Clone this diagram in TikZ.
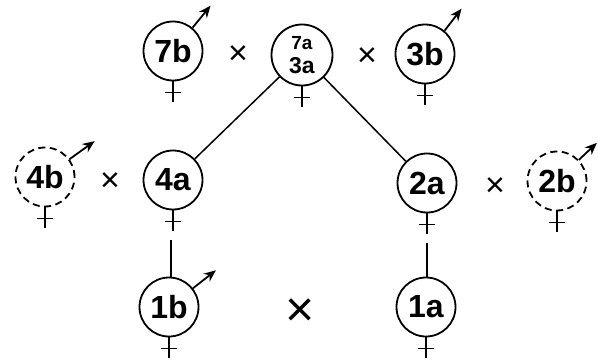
\documentclass[tikz,border=0pt]{standalone}
\usepackage{fontspec}
\setmainfont{Liberation Sans}
\usetikzlibrary{arrows.meta}
\tikzset{
  x=1pt, y=1pt,
  every path/.style={line width=1.7pt},
  sex/.style={circle, draw, line width=1.8pt, minimum size=59pt, inner sep=0pt,
    font=\fontsize{32}{34}\selectfont\bfseries},
  stacked/.style={sex, minimum size=61pt, align=center, font=\fontsize{23}{23}\selectfont\bfseries},
  dashcirc/.style={dash pattern=on 7pt off 4.5pt},
  crossmark/.style={font=\fontsize{34}{36}\selectfont},
  bigcross/.style={font=\fontsize{50}{52}\selectfont},
  malearrow/.style={-{Stealth[length=12pt,width=10pt]}, line width=1.8pt},
  link/.style={line width=1.5pt}
}
\newcommand{\femsym}[1]{%
  \draw (#1.south) -- ++(0,-21);
  \draw ([xshift=-8pt,yshift=-11pt]#1.south) -- ([xshift=8pt,yshift=-11pt]#1.south);
}
\begin{document}
\begin{tikzpicture}
\useasboundingbox (0,0) rectangle (598,360);
% top row
\node[sex] (b7) at (173,309) {7b};
\node[stacked] (a73) at (302,305) {{\fontsize{19}{19}\selectfont 7a}\\[1pt]3a};
\node[sex] (b3) at (425,306) {3b};
\node[crossmark] (x1) at (238,305) {×};
\node[crossmark] (x2) at (367,303) {×};
% middle row
\node[sex, dashcirc] (b4) at (45,183) {4b};
\node[crossmark] (x3) at (110,178) {×};
\node[sex] (a4) at (173,180) {4a};
\node[sex] (a2) at (427,177) {2a};
\node[crossmark] (x4) at (495,173) {×};
\node[sex, dashcirc] (b2) at (557,179) {2b};
% bottom row
\node[sex] (b1) at (169,53) {1b};
\node[bigcross] (x5) at (300,47) {×};
\node[sex] (a1) at (426,53) {1a};
% female symbols
\foreach \n in {b7,a73,b3,b4,a4,a2,b2,b1,a1} {\femsym{\n}}
% male arrows
\draw[malearrow] (b7.50) -- ++(18,22);
\draw[malearrow] (b3.50) -- ++(17,22);
\draw[malearrow] (b4.36) -- ++(25,18);
\draw[malearrow] (b2.44) -- ++(18,17);
\draw[malearrow] (b1.38) -- ++(23,18);
% descent lines
\draw[link] (a73) -- (a4);
\draw[link] (a73) -- (a2);
\coordinate (s4) at (171,120);
\coordinate (s2) at (427,117);
\draw[link] (s4) -- (b1.north -| s4);
\draw[link] (s2) -- (a1.north -| s2);
\end{tikzpicture}
\end{document}
